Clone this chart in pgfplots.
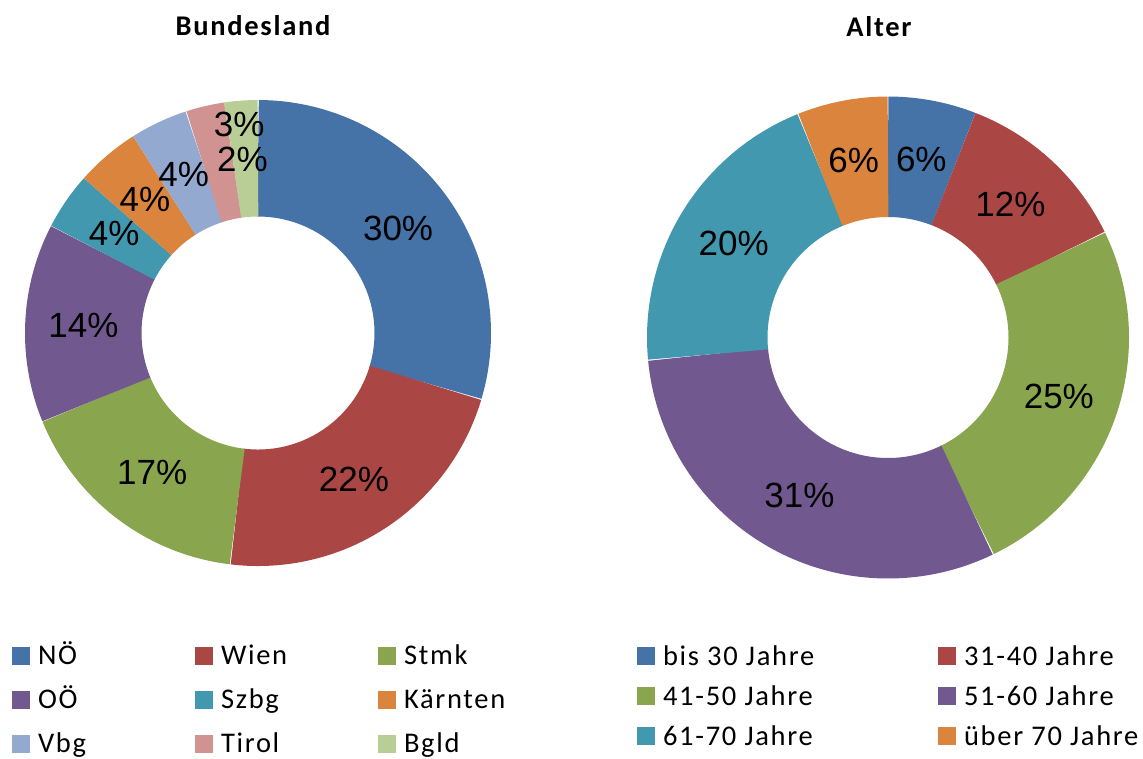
\documentclass[border=0pt]{standalone}
\usepackage{pgfplots}
\pgfplotsset{compat=1.18}
\usepgfplotslibrary{polar}
\usepackage{fontspec}
\setmainfont{Carlito}[LetterSpace=6]
\newfontfamily\arialfont{Liberation Sans}

% Excel 2007 palette
\definecolor{c1}{HTML}{4572A7}
\definecolor{c2}{HTML}{AA4643}
\definecolor{c3}{HTML}{89A54E}
\definecolor{c4}{HTML}{71588F}
\definecolor{c5}{HTML}{4198AF}
\definecolor{c6}{HTML}{DB843D}
\definecolor{c7}{HTML}{93A9CF}
\definecolor{c8}{HTML}{D19392}
\definecolor{c9}{HTML}{B9CD96}

% one donut slice: colour, value in %, label, label angle shift, label radius
\gdef\cum{0}
\newcommand\slice[5]{%
  \pgfmathsetmacro\sa{90-3.6*\cum}%
  \pgfmathsetmacro\ea{90-3.6*(\cum+#2)}%
  \pgfmathsetmacro\la{(\sa+\ea)/2+#4}%
  \pgfmathsetmacro\nc{\cum+#2}%
  \xdef\cum{\nc}%
  \edef\doslice{\noexpand\addplot[ring,#1,domain=\ea:\sa] ({x},{75});}%
  \doslice
  \edef\dolabel{\noexpand\addplot[pct] coordinates {(\la,#5) [#3]};}%
  \dolabel
}
% fixed-width legend texts
\newcommand\lA[1]{\makebox[63pt][l]{\hspace{1.7pt}#1}}
\newcommand\lB[1]{\makebox[110.2pt][l]{\hspace{1.7pt}#1}}

\pgfplotsset{
  donut/.style={
    hide axis, scale only axis, clip=false,
    xmin=-100, xmax=100, ymin=-100, ymax=100,
    data cs=polar, samples=80,
    title style={font=\fontsize{11.4}{13}\selectfont\bfseries, anchor=base},
    legend columns=#1,
    legend cell align=left,
    legend image code/.code={\fill[##1, draw=none, line width=0pt] (0pt,-2.5pt) rectangle (7.2pt,4.7pt);},
    legend style={draw=none, fill=none, inner sep=0pt, outer sep=0pt,
      anchor=north west,
      font=\fontsize{11.4}{13}\selectfont,
      nodes={inner xsep=1.5pt, inner ysep=0pt, text height=7.5pt, text depth=2.5pt}},
  },
  pct/.style={forget plot, draw=none, mark=none,
    nodes near coords, point meta=explicit symbolic,
    every node near coord/.append style={anchor=center, text=black,
      font=\arialfont\fontsize{14}{16}\selectfont}},
}

\begin{document}
\begin{tikzpicture}
\useasboundingbox (0,0) rectangle (457.2pt,-303.2pt);

% Bundesland
\gdef\cum{0}
\begin{axis}[donut=3,
  width=186.4pt, height=186.4pt,
  at={(103.2pt,-133.2pt)}, anchor=center,
  ring/.style={line width=46.6pt},
  title={Bundesland},
  title style={at={(0.5,1)}, yshift=20pt, xshift=-2pt},
  legend style={at={(-0.0279,-0.172)}, row sep=7.6pt},
]
\slice{c1}{29.6}{30\%}{0}{75}
\slice{c2}{22.3}{22\%}{0}{75}
\slice{c3}{16.9}{17\%}{0}{75}
\slice{c4}{13.8}{14\%}{0}{75}
\slice{c5}{4.0}{4\%}{0}{75}
\slice{c6}{4.4}{4\%}{0}{75}
\slice{c7}{4.0}{4\%}{0}{75}
\slice{c8}{2.7}{3\%}{-8}{90}
\slice{c9}{2.3}{2\%}{1}{75}
\legend{\lA{NÖ}, \lA{Wien}, \lA{Stmk}, \lA{OÖ}, \lA{Szbg}, \lA{Kärnten}, \lA{Vbg}, \lA{Tirol}, \lA{Bgld}}
\end{axis}

% Alter
\gdef\cum{0}
\begin{axis}[donut=2,
  width=192.8pt, height=192.8pt,
  at={(355.2pt,-135pt)}, anchor=center,
  ring/.style={line width=48.2pt},
  title={Alter},
  title style={at={(0.5,1)}, yshift=18.2pt, xshift=-3.6pt},
  legend style={at={(-0.0207,-0.1406)}, row sep=6.0pt},
]
\slice{c1}{5.9}{6\%}{0}{75}
\slice{c2}{11.9}{12\%}{0}{75}
\slice{c3}{25.0}{25\%}{0}{75}
\slice{c4}{30.7}{31\%}{0}{75}
\slice{c5}{20.4}{20\%}{0}{75}
\slice{c6}{6.1}{6\%}{0}{75}
\legend{\lB{bis 30 Jahre}, \lB{31-40 Jahre}, \lB{41-50 Jahre}, \lB{51-60 Jahre}, \lB{61-70 Jahre}, \lB{über 70 Jahre}}
\end{axis}
\end{tikzpicture}
\end{document}
